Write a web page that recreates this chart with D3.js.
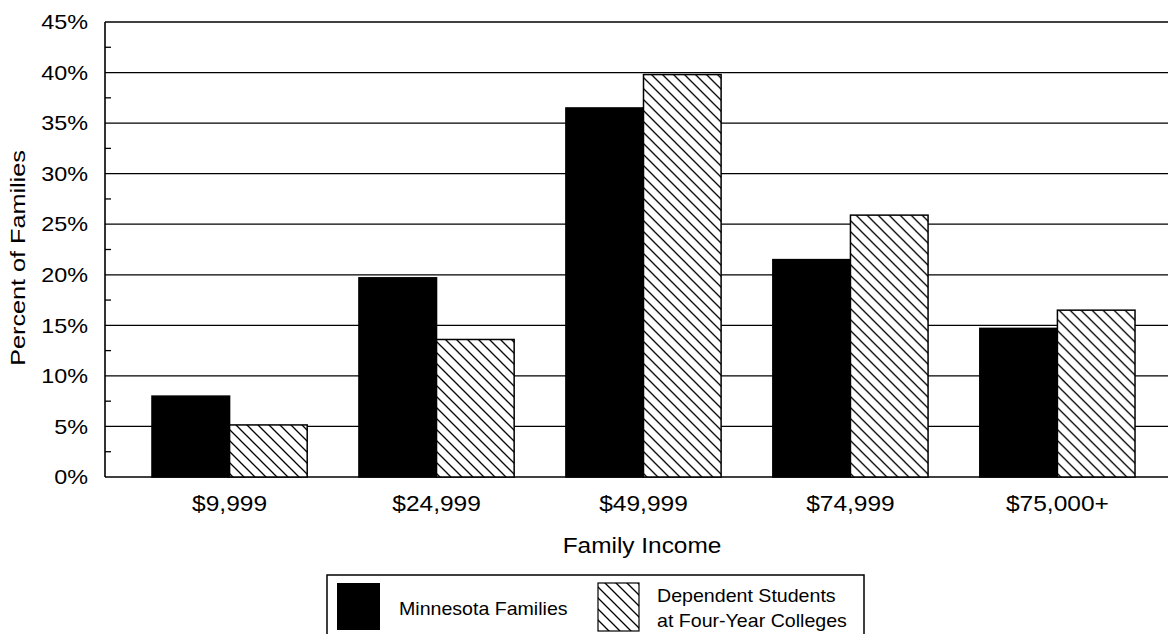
<!DOCTYPE html>
<html>
<head>
<meta charset="utf-8">
<script src="https://cdn.jsdelivr.net/npm/d3@7"></script>
<style>
  html, body { margin: 0; padding: 0; background: #fff; }
  svg { display: block; font-family: "Liberation Sans", Arial, Helvetica, sans-serif; }
</style>
</head>
<body>
<svg id="chart" width="1168" height="634"></svg>
<script>
const categories = ["$9,999", "$24,999", "$49,999", "$74,999", "$75,000+"];
const seriesNames = ["Minnesota Families", "Dependent Students at Four-Year Colleges"];
const minnesotaFamilies = [8.0, 19.7, 36.5, 21.5, 14.7];
const dependentStudents = [5.15, 13.6, 39.8, 25.9, 16.5];
const yTicks = [0, 5, 10, 15, 20, 25, 30, 35, 40, 45];
const minorTicks = [2.5, 7.5, 12.5, 17.5, 22.5, 27.5, 32.5, 37.5, 42.5];
const xTitle = "Family Income";
const yTitle = "Percent of Families";

(function () {
const svg = d3.select("#chart");
const W = 1168;
const plotLeft = 105, plotTop = 22, plotBottom = 477;

const defs = svg.append("defs");
const s = 11;
const pat = defs.append("pattern")
  .attr("id", "hatch").attr("patternUnits", "userSpaceOnUse")
  .attr("width", s).attr("height", s);
pat.append("rect").attr("width", s).attr("height", s).attr("fill", "#fff");
pat.append("path")
  .attr("d", `M0,0 L${s},${s} M${-s/2},${s/2} L${s/2},${s*1.5} M${s/2},${-s/2} L${s*1.5},${s/2}`)
  .attr("stroke", "#000").attr("stroke-width", 1.3);

const y = d3.scaleLinear().domain([0, 45]).range([plotBottom, plotTop]);
const x = d3.scaleBand().domain(categories).range([plotLeft, 1182])
  .paddingInner(0.25).paddingOuter(0.227);
const x1 = d3.scaleBand().domain([0, 1]).range([0, x.bandwidth()]);

// gridlines
svg.append("g").selectAll("line").data(yTicks).join("line")
  .attr("x1", plotLeft).attr("x2", W)
  .attr("y1", d => y(d)).attr("y2", d => y(d))
  .attr("stroke", "#000").attr("stroke-width", 1.3);

// minor ticks
svg.append("g").selectAll("line").data(minorTicks).join("line")
  .attr("x1", plotLeft).attr("x2", plotLeft + 6)
  .attr("y1", d => y(d)).attr("y2", d => y(d))
  .attr("stroke", "#000").attr("stroke-width", 1.3);

// left axis line
svg.append("line").attr("x1", plotLeft).attr("x2", plotLeft)
  .attr("y1", y(45)).attr("y2", y(0))
  .attr("stroke", "#000").attr("stroke-width", 1.6);

// y tick labels (reference font is wide: stretch horizontally)
svg.append("g").selectAll("text").data(yTicks).join("text")
  .attr("transform", d => `translate(88,${y(d)}) scale(1.17,1)`)
  .attr("dy", "0.36em")
  .attr("text-anchor", "end").attr("font-size", 20)
  .text(d => d + "%");

// bars
const groups = svg.append("g").selectAll("g").data(categories).join("g")
  .attr("transform", d => `translate(${x(d)},0)`);
groups.append("rect")
  .attr("x", x1(0)).attr("width", x1.bandwidth())
  .attr("y", (d, i) => y(minnesotaFamilies[i]))
  .attr("height", (d, i) => y(0) - y(minnesotaFamilies[i]))
  .attr("fill", "#000").attr("stroke", "#000").attr("stroke-width", 1.5);
groups.append("rect")
  .attr("x", x1(1)).attr("width", x1.bandwidth())
  .attr("y", (d, i) => y(dependentStudents[i]))
  .attr("height", (d, i) => y(0) - y(dependentStudents[i]))
  .attr("fill", "url(#hatch)").attr("stroke", "#000").attr("stroke-width", 1.5);

// x labels
svg.append("g").selectAll("text").data(categories).join("text")
  .attr("transform", d => `translate(${x(d) + x.bandwidth() / 2},511) scale(1.14,1)`)
  .attr("text-anchor", "middle").attr("font-size", 21.5)
  .text(d => d);

svg.append("text")
  .attr("transform", "translate(642,553) scale(1.11,1)")
  .attr("text-anchor", "middle").attr("font-size", 22).text(xTitle);

svg.append("text")
  .attr("transform", "translate(25,258) rotate(-90) scale(1.2,1)")
  .attr("text-anchor", "middle").attr("font-size", 21).text(yTitle);

// legend
const lg = svg.append("g");
lg.append("rect").attr("x", 327).attr("y", 575).attr("width", 537).attr("height", 90)
  .attr("fill", "#fff").attr("stroke", "#000").attr("stroke-width", 1.5);
lg.append("rect").attr("x", 337).attr("y", 583).attr("width", 43).attr("height", 47)
  .attr("fill", "#000");
lg.append("text")
  .attr("transform", "translate(399,615) scale(1.07,1)")
  .attr("font-size", 18.3).text(seriesNames[0]);
lg.append("rect").attr("x", 598).attr("y", 583).attr("width", 41).attr("height", 48)
  .attr("fill", "url(#hatch)").attr("stroke", "#000").attr("stroke-width", 1.2);
const t2 = lg.append("text")
  .attr("transform", "translate(657,0) scale(1.06,1)")
  .attr("font-size", 18.5);
t2.append("tspan").attr("x", 0).attr("y", 602).text("Dependent Students");
t2.append("tspan").attr("x", 0).attr("y", 627).text("at Four-Year Colleges");
})();
</script>
</body>
</html>
